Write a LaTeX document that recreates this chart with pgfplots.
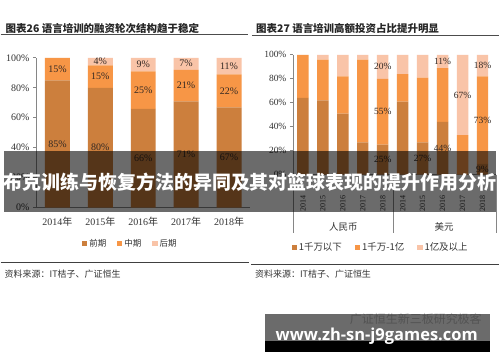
\documentclass[border=0pt]{standalone}
\usepackage{fontspec}
\usepackage{pgfplots}
\usepackage{pgfplotstable}
\pgfplotsset{compat=1.18}
\setmainfont{Liberation Serif}
\newfontfamily\cjk{Noto Sans CJK SC}
\newfontfamily\osans{Open Sans}
\definecolor{cA}{RGB}{204,127,61}
\definecolor{cB}{RGB}{247,150,70}
\definecolor{cC}{RGB}{249,196,168}
\definecolor{axgray}{RGB}{134,134,134}
\definecolor{lbl}{RGB}{50,40,35}

% left chart: financing rounds share
\pgfplotstableread{
x early mid late
0 85 15 0
1 80 15 5
2 66 25 9
3 71 21 8
4 67 22 11
}\leftdata
\pgfplotstableread{
x y label
0 42.5 85
0 92.5 15
1 40 80
1 87.5 15
1 97.5 4
2 33 66
2 78.5 25
2 95.5 9
3 35.5 71
3 81.5 21
3 96.5 7
4 33.5 67
4 78 22
4 94.5 11
}\leftlabels

% right chart: investment size share
\pgfplotstableread{
x low mid high
0 64 36 0
1 62 34 4
2 51 31 18
3 27 69 4
4 25 55 20
5 61 23 16
6 27 54 19
7 44 45 11
8 0 33 67
9 9 73 18
}\rightdata
\pgfplotstableread{
x y label
4 12.5 25
4 52.5 55
4 90 20
6 13.5 27
7 22 44
7 94.5 11
8 66.5 67
9 4.5 9
9 45.5 73
9 91 18
}\rightlabels

\pgfplotsset{sq legend/.style={legend image code/.code={\fill[##1] (0pt,-2.6pt) rectangle (5.2pt,2.6pt);}}}

\begin{document}
\begin{tikzpicture}
\fill[white] (0pt,0pt) rectangle (500pt,362pt);

% titles
\node[anchor=base west, inner sep=0pt, font=\cjk\bfseries\fontsize{10.5}{10.5}\selectfont, text=black!85] at (5pt,329pt) {图表26 语言培训的融资轮次结构趋于稳定};
\node[anchor=base west, inner sep=0pt, font=\cjk\bfseries\fontsize{10.5}{10.5}\selectfont, text=black!85] at (256pt,329pt) {图表27 语言培训高额投资占比提升明显};
\draw[line width=1.1pt, black!70] (0pt,327pt) -- (248pt,327pt);
\draw[line width=1.1pt, black!70] (252pt,326pt) -- (500pt,326pt);

% ---------- left chart ----------
\begin{axis}[at={(35.5pt,154pt)}, anchor=south west, scale only axis,
  width=215pt, height=150pt,
  xmin=-0.5, xmax=4.5, ymin=0, ymax=100,
  ybar stacked, bar width=25pt,
  axis x line*=bottom, axis y line*=left,
  axis line style={axgray, line width=0.8pt},
  ytick={0,20,40,60,80,100},
  yticklabels={0\%,20\%,40\%,60\%,80\%,100\%},
  xtick={0,1,2,3,4},
  xticklabels={2014{\cjk 年},2015{\cjk 年},2016{\cjk 年},2017{\cjk 年},2018{\cjk 年}},
  xticklabel shift=3pt,
  x tick style={draw=none}, y tick style={axgray, line width=0.8pt},
  tick align=outside, major tick length=3pt, ytick pos=left,
  tick label style={font=\fontsize{10}{10}\selectfont, text=black!80},
  legend style={at={(0.44,-0.24)}, anchor=center, draw=none, fill=none,
    legend columns=3, inner sep=0pt,
    font=\cjk\fontsize{8.5}{8.5}\selectfont, text=black!80,
    /tikz/every even column/.append style={column sep=9pt}},
]
\addplot[fill=cA, draw=none, sq legend] table[x=x,y=early]{\leftdata};
\addplot[fill=cB, draw=none, sq legend] table[x=x,y=mid]{\leftdata};
\addplot[fill=cC, draw=none, sq legend] table[x=x,y=late]{\leftdata};
\legend{前期,中期,后期}
\end{axis}
\begin{axis}[at={(35.5pt,154pt)}, anchor=south west, scale only axis,
  width=215pt, height=150pt, xmin=-0.5, xmax=4.5, ymin=0, ymax=100,
  hide axis, clip=false]
\addplot[draw=none, mark=none, nodes near coords={\pgfplotspointmeta\%},
  point meta=explicit symbolic,
  nodes near coords style={anchor=center, inner sep=0pt, font=\fontsize{10}{10}\selectfont, text=lbl}]
  table[x=x,y=y,meta=label]{\leftlabels};
\end{axis}

% ---------- right chart ----------
\begin{axis}[at={(293pt,187pt)}, anchor=south west, scale only axis,
  width=204pt, height=120pt,
  xmin=-0.5, xmax=9.7, ymin=0, ymax=100,
  ybar stacked, bar width=11.5pt,
  axis x line*=bottom, axis y line*=left,
  axis line style={axgray, line width=0.8pt},
  ytick={0,20,40,60,80,100},
  yticklabels={0\%,20\%,40\%,60\%,80\%,100\%},
  xtick={0,...,9},
  xticklabels={2014,2015,2016,2017,2018,2014,2015,2016,2017,2018},
  xticklabel style={rotate=90, anchor=east, font=\fontsize{8}{8}\selectfont},
  xticklabel shift=14pt,
  x tick style={draw=none}, y tick style={axgray, line width=0.8pt},
  tick align=outside, major tick length=3pt, ytick pos=left,
  yticklabel style={font=\fontsize{9.5}{9.5}\selectfont},
  tick label style={text=black!80},
  legend style={at={(0.431,-0.608)}, anchor=center, draw=none, fill=none,
    legend columns=3, inner sep=0pt,
    font=\cjk\fontsize{9.5}{9.5}\selectfont, text=black!80,
    /tikz/every even column/.append style={column sep=11pt}},
]
\addplot[fill=cA, draw=none, sq legend] table[x=x,y=low]{\rightdata};
\addplot[fill=cB, draw=none, sq legend] table[x=x,y=mid]{\rightdata};
\addplot[fill=cC, draw=none, sq legend] table[x=x,y=high]{\rightdata};
\legend{1千万以下,1千万-1亿,1亿及以上}
\end{axis}
\begin{axis}[at={(293pt,187pt)}, anchor=south west, scale only axis,
  width=204pt, height=120pt, xmin=-0.5, xmax=9.7, ymin=0, ymax=100,
  hide axis, clip=false]
\addplot[draw=none, mark=none, nodes near coords={\pgfplotspointmeta\%},
  point meta=explicit symbolic,
  nodes near coords style={anchor=center, inner sep=0pt, font=\fontsize{9.5}{9.5}\selectfont, text=lbl}]
  table[x=x,y=y,meta=label]{\rightlabels};
\end{axis}

% group separators and labels
\draw[axgray, line width=0.8pt] (293pt,187pt) -- (293pt,128pt);
\draw[axgray, line width=0.8pt] (394pt,187pt) -- (394pt,128pt);
\draw[axgray, line width=0.8pt] (497pt,187pt) -- (497pt,128pt);
\node[font=\cjk\fontsize{9.5}{9.5}\selectfont, text=black!80] at (343.5pt,135pt) {人民币};
\node[font=\cjk\fontsize{9.5}{9.5}\selectfont, text=black!80] at (444.5pt,135pt) {美元};

% bottom rules and sources
\draw[line width=0.7pt, black!75] (0pt,99pt) -- (249pt,99pt);
\draw[line width=0.7pt, black!75] (251pt,97pt) -- (500pt,97pt);
\node[anchor=base west, inner sep=0pt, font=\cjk\fontsize{9}{9}\selectfont, text=black!80] at (4pt,84pt) {资料来源：IT桔子、广证恒生};
\node[anchor=base west, inner sep=0pt, font=\cjk\fontsize{9}{9}\selectfont, text=black!80] at (255pt,84pt) {资料来源：IT桔子、广证恒生};

% watermark under bottom banner
\node[anchor=base west, inner sep=0pt, font=\cjk\fontsize{12}{12}\selectfont, text=black!22] at (350pt,38pt) {广证恒生新三板研究极客};

% overlay banners
\fill[black, opacity=0.58] (3pt,150pt) rectangle (497pt,211pt);
\node[font=\cjk\bfseries\fontsize{19}{19}\selectfont, text=white, inner sep=0pt] at (250pt,179pt) {布克训练与恢复方法的异同及其对篮球表现的提升作用分析};
\fill[black, opacity=0.58] (265pt,20pt) rectangle (491pt,47pt);
\fill[black] (265pt,9pt) rectangle (491pt,20pt);
\node[anchor=base, inner sep=0pt, font=\osans\bfseries\fontsize{16.5}{16.5}\selectfont, text=white] at (377pt,21pt) {www.zh-sn-j9games.com};
\end{tikzpicture}
\end{document}
